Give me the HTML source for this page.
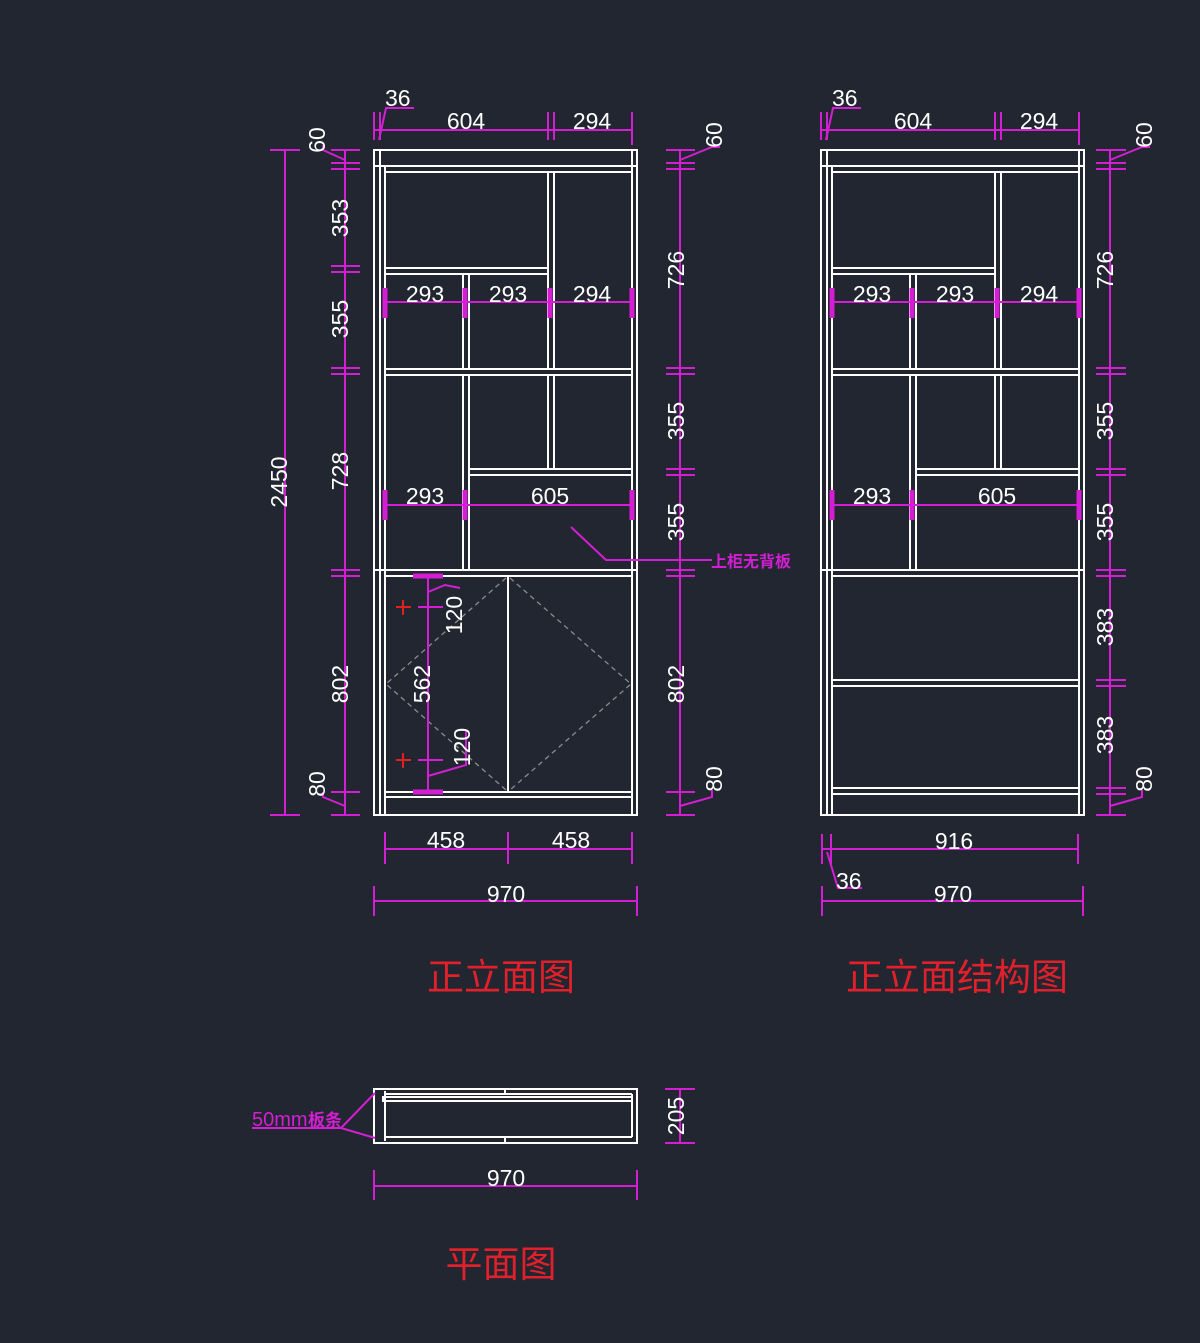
<!DOCTYPE html>
<html><head><meta charset="utf-8"><style>
html,body{margin:0;padding:0;background:#212630;}
svg{display:block}
text{font-family:"Liberation Sans","DejaVu Sans",sans-serif;fill:#fff;font-size:23px;}
.m{stroke:#d41ed4;stroke-width:2;fill:none}
.mt{stroke:#d41ed4;stroke-width:5;fill:none}
.w{stroke:#fff;stroke-width:2;fill:none}
.d{stroke:#8a8c90;stroke-width:1.3;stroke-dasharray:5 4;fill:none}
.cn{font-family:"Liberation Sans","Noto Sans CJK SC",sans-serif;fill:#e0202a;font-size:37px}
</style></head><body>
<svg width="1200" height="1343" viewBox="0 0 1200 1343" xmlns="http://www.w3.org/2000/svg">
<defs>
<g id="frame">
<rect x="374" y="150" width="263" height="665" class="w"/>
<line x1="380" y1="150" x2="380" y2="815" class="w"/>
<line x1="385" y1="166" x2="385" y2="815" class="w"/>
<line x1="632" y1="150" x2="632" y2="815" class="w"/>
<line x1="374" y1="166" x2="637" y2="166" class="w"/>
<line x1="385" y1="172" x2="632" y2="172" class="w"/>
<line x1="385" y1="268" x2="548" y2="268" class="w"/>
<line x1="385" y1="274" x2="548" y2="274" class="w"/>
<line x1="548" y1="172" x2="548" y2="369" class="w"/>
<line x1="554" y1="172" x2="554" y2="369" class="w"/>
<line x1="385" y1="369" x2="632" y2="369" class="w"/>
<line x1="385" y1="375" x2="632" y2="375" class="w"/>
<line x1="463" y1="274" x2="463" y2="369" class="w"/>
<line x1="469" y1="274" x2="469" y2="369" class="w"/>
<line x1="463" y1="375" x2="463" y2="570" class="w"/>
<line x1="469" y1="375" x2="469" y2="570" class="w"/>
<line x1="548" y1="375" x2="548" y2="469" class="w"/>
<line x1="554" y1="375" x2="554" y2="469" class="w"/>
<line x1="469" y1="469" x2="632" y2="469" class="w"/>
<line x1="469" y1="475" x2="632" y2="475" class="w"/>
<line x1="374" y1="570" x2="637" y2="570" class="w"/>
<line x1="385" y1="576" x2="632" y2="576" class="w"/>
<line x1="374" y1="130" x2="632" y2="130" class="m"/>
<line x1="374" y1="112" x2="374" y2="140" class="m"/>
<line x1="380" y1="112" x2="380" y2="140" class="m"/>
<line x1="548" y1="112" x2="548" y2="140" class="m"/>
<line x1="554" y1="112" x2="554" y2="140" class="m"/>
<line x1="632" y1="112" x2="632" y2="145" class="m"/>
<polyline points="379,140 386,108 414,108" class="m"/>
<text x="385" y="106">36</text>
<text x="466" y="129" text-anchor="middle">604</text>
<text x="592" y="129" text-anchor="middle">294</text>
<line x1="385" y1="302" x2="632" y2="302" class="m"/>
<g class="mt"><line x1="385" y1="288" x2="385" y2="318"/><line x1="465" y1="288" x2="465" y2="318"/><line x1="550" y1="288" x2="550" y2="318"/><line x1="632" y1="288" x2="632" y2="318"/></g>
<text x="425" y="302" text-anchor="middle">293</text>
<text x="508" y="302" text-anchor="middle">293</text>
<text x="592" y="302" text-anchor="middle">294</text>
<line x1="385" y1="505" x2="632" y2="505" class="m"/>
<g class="mt"><line x1="385" y1="490" x2="385" y2="520"/><line x1="465" y1="490" x2="465" y2="520"/><line x1="632" y1="490" x2="632" y2="520"/></g>
<text x="425" y="504" text-anchor="middle">293</text>
<text x="550" y="504" text-anchor="middle">605</text>
</g>
</defs>

<use href="#frame"/>
<line x1="385" y1="792" x2="632" y2="792" class="w"/>
<line x1="385" y1="797" x2="632" y2="797" class="w"/>
<line x1="508" y1="576" x2="508" y2="792" class="w"/>
<polyline points="506,578 386,684 506,790" class="d"/>
<polyline points="510,578 631,684 510,790" class="d"/>
<line x1="428" y1="576" x2="428" y2="792" class="m"/>
<line x1="413" y1="576" x2="443" y2="576" class="mt"/>
<line x1="413" y1="792" x2="443" y2="792" class="mt"/>
<line x1="418" y1="607" x2="443" y2="607" class="m"/>
<line x1="418" y1="760" x2="443" y2="760" class="m"/>
<polyline points="428,592 445,585 460,588" class="m"/>
<polyline points="428,776 466,765 466,731" class="m"/>
<g stroke="#e02020" stroke-width="2"><line x1="396" y1="607" x2="411" y2="607"/><line x1="403" y1="600" x2="403" y2="615"/><line x1="396" y1="760" x2="411" y2="760"/><line x1="403" y1="753" x2="403" y2="768"/></g>
<text transform="translate(462,615) rotate(-90)" text-anchor="middle">120</text>
<text transform="translate(430,684) rotate(-90)" text-anchor="middle">562</text>
<text transform="translate(470,747) rotate(-90)" text-anchor="middle">120</text>
<line x1="285" y1="150" x2="285" y2="815" class="m"/>
<line x1="270" y1="150" x2="300" y2="150" class="m"/>
<line x1="270" y1="815" x2="300" y2="815" class="m"/>
<text transform="translate(287,482) rotate(-90)" text-anchor="middle">2450</text>
<line x1="345" y1="150" x2="345" y2="815" class="m"/>
<g class="m">
<line x1="331" y1="150" x2="360" y2="150"/>
<line x1="331" y1="163" x2="360" y2="163"/><line x1="331" y1="169" x2="360" y2="169"/>
<line x1="331" y1="266" x2="360" y2="266"/><line x1="331" y1="272" x2="360" y2="272"/>
<line x1="331" y1="368" x2="360" y2="368"/><line x1="331" y1="374" x2="360" y2="374"/>
<line x1="331" y1="570" x2="360" y2="570"/><line x1="331" y1="576" x2="360" y2="576"/>
<line x1="331" y1="792" x2="360" y2="792"/><line x1="331" y1="815" x2="360" y2="815"/>
<polyline points="345,160 323,150 323,145"/>
<polyline points="345,806 323,797 323,792"/>
</g>
<text transform="translate(325,140) rotate(-90)" text-anchor="middle">60</text>
<text transform="translate(348,218) rotate(-90)" text-anchor="middle">353</text>
<text transform="translate(348,319) rotate(-90)" text-anchor="middle">355</text>
<text transform="translate(348,471) rotate(-90)" text-anchor="middle">728</text>
<text transform="translate(348,684) rotate(-90)" text-anchor="middle">802</text>
<text transform="translate(325,784) rotate(-90)" text-anchor="middle">80</text>
<line x1="680" y1="150" x2="680" y2="815" class="m"/>
<g class="m">
<line x1="666" y1="150" x2="695" y2="150"/>
<line x1="666" y1="163" x2="695" y2="163"/><line x1="666" y1="169" x2="695" y2="169"/>
<line x1="666" y1="368" x2="695" y2="368"/><line x1="666" y1="374" x2="695" y2="374"/>
<line x1="666" y1="469" x2="695" y2="469"/><line x1="666" y1="475" x2="695" y2="475"/>
<line x1="666" y1="570" x2="695" y2="570"/><line x1="666" y1="576" x2="695" y2="576"/>
<line x1="666" y1="792" x2="695" y2="792"/><line x1="666" y1="815" x2="695" y2="815"/>
<polyline points="680,160 712,147 720,147"/>
<polyline points="680,806 712,797 712,790"/>
</g>
<text transform="translate(722,135) rotate(-90)" text-anchor="middle">60</text>
<text transform="translate(684,270) rotate(-90)" text-anchor="middle">726</text>
<text transform="translate(684,421) rotate(-90)" text-anchor="middle">355</text>
<text transform="translate(684,522) rotate(-90)" text-anchor="middle">355</text>
<text transform="translate(684,684) rotate(-90)" text-anchor="middle">802</text>
<text transform="translate(722,779) rotate(-90)" text-anchor="middle">80</text>
<polyline points="571,527 606,560 712,560" class="m"/>
<text x="711" y="567" style="fill:#d41ed4;font-size:16px;font-family:'Liberation Sans','Noto Sans CJK SC',sans-serif;font-weight:bold">上柜无背板</text>
<line x1="385" y1="849" x2="632" y2="849" class="m"/>
<g class="m"><line x1="385" y1="832" x2="385" y2="864"/><line x1="508" y1="832" x2="508" y2="864"/><line x1="632" y1="832" x2="632" y2="864"/></g>
<text x="446" y="848" text-anchor="middle">458</text>
<text x="571" y="848" text-anchor="middle">458</text>
<line x1="374" y1="901" x2="637" y2="901" class="m"/>
<g class="m"><line x1="374" y1="886" x2="374" y2="916"/><line x1="637" y1="886" x2="637" y2="916"/></g>
<text x="506" y="902" text-anchor="middle">970</text>
<text x="501" y="990" class="cn" text-anchor="middle">正立面图</text>

<use href="#frame" transform="translate(447,0)"/>
<line x1="832" y1="680" x2="1079" y2="680" class="w"/>
<line x1="832" y1="686" x2="1079" y2="686" class="w"/>
<line x1="832" y1="788" x2="1079" y2="788" class="w"/>
<line x1="832" y1="794" x2="1079" y2="794" class="w"/>
<line x1="1110" y1="150" x2="1110" y2="815" class="m"/>
<g class="m">
<line x1="1096" y1="150" x2="1126" y2="150"/>
<line x1="1096" y1="163" x2="1126" y2="163"/><line x1="1096" y1="169" x2="1126" y2="169"/>
<line x1="1096" y1="368" x2="1126" y2="368"/><line x1="1096" y1="374" x2="1126" y2="374"/>
<line x1="1096" y1="469" x2="1126" y2="469"/><line x1="1096" y1="475" x2="1126" y2="475"/>
<line x1="1096" y1="570" x2="1126" y2="570"/><line x1="1096" y1="576" x2="1126" y2="576"/>
<line x1="1096" y1="680" x2="1126" y2="680"/><line x1="1096" y1="686" x2="1126" y2="686"/>
<line x1="1096" y1="788" x2="1126" y2="788"/><line x1="1096" y1="794" x2="1126" y2="794"/>
<line x1="1096" y1="815" x2="1126" y2="815"/>
<polyline points="1110,160 1142,147 1150,147"/>
<polyline points="1110,806 1142,797 1142,790"/>
</g>
<text transform="translate(1152,135) rotate(-90)" text-anchor="middle">60</text>
<text transform="translate(1113,270) rotate(-90)" text-anchor="middle">726</text>
<text transform="translate(1113,421) rotate(-90)" text-anchor="middle">355</text>
<text transform="translate(1113,522) rotate(-90)" text-anchor="middle">355</text>
<text transform="translate(1113,627) rotate(-90)" text-anchor="middle">383</text>
<text transform="translate(1113,735) rotate(-90)" text-anchor="middle">383</text>
<text transform="translate(1152,779) rotate(-90)" text-anchor="middle">80</text>
<line x1="822" y1="849" x2="1078" y2="849" class="m"/>
<g class="m"><line x1="822" y1="834" x2="822" y2="864"/><line x1="831" y1="834" x2="831" y2="864"/><line x1="1078" y1="834" x2="1078" y2="864"/>
<polyline points="827,852 838,888 862,888"/></g>
<text x="954" y="849" text-anchor="middle">916</text>
<text x="836" y="889">36</text>
<line x1="822" y1="901" x2="1083" y2="901" class="m"/>
<g class="m"><line x1="822" y1="886" x2="822" y2="916"/><line x1="1083" y1="886" x2="1083" y2="916"/></g>
<text x="953" y="902" text-anchor="middle">970</text>
<text x="957" y="990" class="cn" text-anchor="middle">正立面结构图</text>

<rect x="374" y="1089" width="263" height="54" class="w"/>
<line x1="385" y1="1091" x2="385" y2="1141" class="w"/>
<line x1="385" y1="1094" x2="632" y2="1094" class="w"/>
<rect x="383" y="1097" width="249" height="4" class="w"/>
<line x1="385" y1="1137" x2="632" y2="1137" class="w"/>
<line x1="632" y1="1094" x2="632" y2="1137" class="w"/>
<line x1="505" y1="1089" x2="505" y2="1094" class="w"/>
<line x1="505" y1="1137" x2="505" y2="1143" class="w"/>
<polyline points="375,1093 341,1128 375,1138" class="m"/>
<line x1="252" y1="1128" x2="341" y2="1128" class="m"/>
<text x="252" y="1126" style="fill:#d41ed4;font-size:20px;font-family:'Liberation Sans','Noto Sans CJK SC',sans-serif">50mm</text>
<text x="308" y="1126" style="fill:#d41ed4;font-size:17px;font-family:'Liberation Sans','Noto Sans CJK SC',sans-serif;font-weight:bold">板条</text>
<line x1="680" y1="1089" x2="680" y2="1143" class="m"/>
<line x1="665" y1="1089" x2="695" y2="1089" class="m"/>
<line x1="665" y1="1143" x2="695" y2="1143" class="m"/>
<text transform="translate(684,1116) rotate(-90)" text-anchor="middle">205</text>
<line x1="374" y1="1186" x2="637" y2="1186" class="m"/>
<g class="m"><line x1="374" y1="1170" x2="374" y2="1200"/><line x1="637" y1="1170" x2="637" y2="1200"/></g>
<text x="506" y="1186" text-anchor="middle">970</text>
<text x="501" y="1277" class="cn" text-anchor="middle">平面图</text>
</svg>
</body></html>
